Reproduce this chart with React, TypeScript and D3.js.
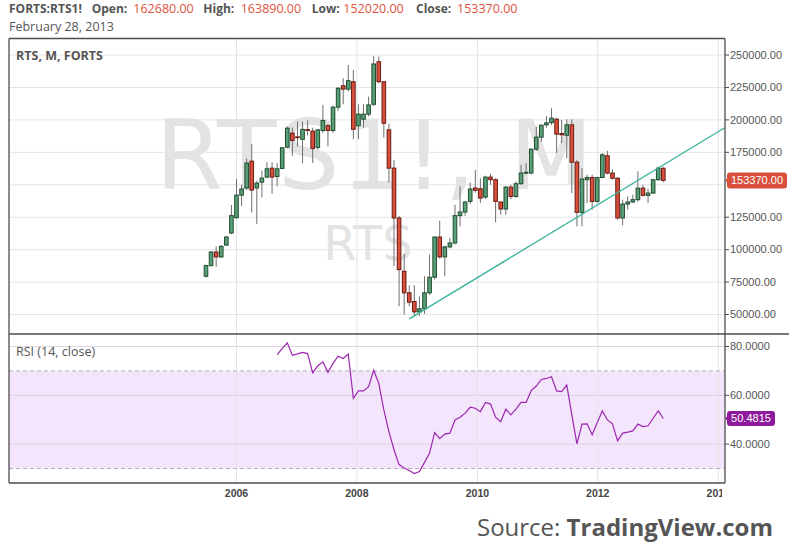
import { useMemo } from 'react';
import { scaleLinear, scaleTime, line } from 'd3';

// Monthly FORTS RTS1! bars, Aug 2005 → Feb 2013 (91 bars)
const FIRST_MONTH = new Date(2005, 7, 1);

const OPEN = [
  79500, 87700, 98200, 94400, 103500, 112800, 124600, 142000, 147500, 168200,
  147500, 152000, 155900, 162800, 156400, 162600, 179000, 189800, 186900, 185000,
  192500, 191300, 178800, 191800, 195500, 191800, 209800, 226300, 223700, 229400,
  195500, 200500, 204400, 212000, 244800, 229400, 192300, 162800, 124400, 83300,
  66700, 60000, 52000, 54400, 66700, 78700, 109700, 94400, 102100, 105100,
  126200, 129000, 137200, 147500, 146900, 140500, 155900, 153900, 136700, 131300,
  148200, 141000, 150800, 159000, 159000, 177400, 186700, 196200, 197900, 200500,
  189500, 188200, 196200, 167400, 128700, 153900, 155600, 137200, 155600, 172300,
  159000, 155000, 124400, 135100, 136700, 138500, 147400, 141800, 143600, 153900, 162680,
];
const HIGH = [
  88500, 98700, 102500, 103500, 110700, 134400, 154600, 150000, 170300, 181500,
  153000, 160800, 167400, 167400, 166700, 179000, 195000, 194100, 198700, 198700,
  199600, 194000, 193000, 211500, 197000, 211000, 225000, 232000, 242300, 238500,
  212000, 212000, 217900, 249200, 248800, 229800, 197000, 169000, 126000, 96900,
  72500, 72500, 64000, 79500, 96200, 110000, 122300, 103000, 109000, 134600,
  148700, 137500, 151800, 161500, 155000, 157000, 158500, 155000, 137000, 149000,
  150000, 152500, 165400, 166700, 178000, 194900, 196500, 203000, 209000, 201500,
  200000, 200500, 200500, 169000, 162800, 157700, 157700, 156000, 174400, 176200,
  162000, 156000, 138500, 141000, 142300, 160300, 150000, 146700, 154500, 164000, 163890,
];
const LOW = [
  78500, 87000, 86700, 93500, 103000, 112000, 124000, 133500, 146000, 128700,
  119700, 140300, 155000, 143100, 148800, 162000, 178000, 172300, 179500, 166700,
  188000, 166700, 177000, 190000, 179500, 190000, 207000, 212000, 222000, 185100,
  185100, 194000, 202700, 210700, 228000, 186200, 151800, 87200, 56400, 50000,
  56400, 48700, 49000, 50500, 65000, 77000, 93000, 79500, 101000, 104000,
  117900, 126000, 135000, 144000, 136000, 139000, 150000, 121000, 126900, 126900,
  139000, 140000, 150000, 158000, 158000, 176000, 183000, 194000, 196000, 174400,
  182000, 170500, 143600, 117900, 117900, 135900, 130800, 136000, 155000, 158000,
  154000, 123000, 118700, 130800, 136000, 137000, 141000, 135900, 143000, 153000, 152020,
];
const CLOSE = [
  87700, 98200, 94400, 102500, 109700, 126200, 142000, 146700, 166700, 145900,
  151300, 155100, 162300, 155900, 162300, 178500, 193600, 184200, 186500, 192700,
  192000, 178000, 192300, 199500, 191800, 209800, 224400, 223700, 230200, 192800,
  204400, 204400, 211500, 243100, 229400, 197400, 162800, 124400, 84600, 66700,
  59500, 52000, 54400, 66700, 78700, 109700, 94400, 102100, 105100, 126200,
  129000, 136700, 146700, 145700, 139700, 155900, 153900, 137200, 131300, 148200,
  141000, 150800, 159000, 159600, 177400, 186700, 195900, 197700, 201300, 189000,
  188500, 196200, 167400, 128700, 154400, 155600, 137200, 155600, 173100, 159000,
  155000, 124400, 135100, 136700, 138500, 147400, 141800, 143600, 153900, 162800, 153370,
];

// RSI(14, close) from bar 14 onward
const RSI_START = 14;
const RSI = [
  76.7, 79.1, 81.5, 76.4, 77.0, 77.6, 77.1, 69.2, 72.1, 73.7,
  69.4, 73.1, 76.0, 75.1, 76.9, 58.8, 61.8, 61.8, 63.5, 70.3,
  64.9, 54.0, 45.1, 37.7, 31.6, 30.2, 29.2, 27.9, 28.8, 32.5,
  36.3, 44.7, 42.2, 44.1, 44.5, 49.9, 51.0, 52.7, 55.1, 54.7,
  53.3, 57.1, 56.4, 51.0, 49.2, 54.3, 52.0, 54.3, 57.1, 57.1,
  61.9, 63.8, 66.5, 66.9, 67.6, 61.8, 61.5, 64.2, 52.0, 40.1,
  48.2, 48.3, 43.8, 48.8, 53.6, 49.9, 48.3, 41.3, 44.5, 44.9,
  45.4, 48.2, 47.2, 47.5, 50.6, 53.6, 50.4815,
];

const PRICE_TICKS = [50000, 75000, 100000, 125000, 150000, 175000, 200000, 225000, 250000];
const PRICE_LABEL_TICKS = [50000, 75000, 100000, 125000, 175000, 200000, 225000, 250000];
const RSI_TICKS = [40, 60, 80];
const RSI_BANDS = [30, 70];
const YEAR_TICKS = [2006, 2008, 2010, 2012, 2014];

// hand-drawn trend line: [bar index, price]
const TREND = [
  { i: 40, v: 46600 },
  { i: 102, v: 193700 },
];
const HIGHLIGHT_BAR = 72;

const W = 789;
const H = 554;
const FRAME = { left: 9, right: 725, top: 38.5, split: 334, bottom: 483 };

const UP_FILL = '#5a9e78';
const UP_LINE = '#1d4d2e';
const DOWN_FILL = '#d8503c';
const DOWN_LINE = '#6a1a10';
const WICK = '#6e6e6e';
const TEXT = '#555';
const AXIS_FONT = "'Liberation Sans', Arial, sans-serif";
const UI_FONT = "'Open Sans', 'Noto Sans', sans-serif";

export default function App() {
  const x = useMemo(() => scaleLinear().domain([0, OPEN.length - 1]).range([206, 663.3]), []);
  const xYear = useMemo(
    () => scaleTime().domain([new Date(2006, 0, 1), new Date(2014, 0, 1)]).range([236.5, 718.3]),
    [],
  );
  const y = useMemo(() => scaleLinear().domain([50000, 250000]).range([314.5, 55]), []);
  const yR = useMemo(() => scaleLinear().domain([30, 80]).range([468.5, 346.5]), []);

  const rsiPath = line<number>()
    .x((_, k) => x(RSI_START + k))
    .y((d) => yR(d))(RSI) ?? '';

  const last = OPEN.length - 1;
  const lastRsi = RSI[RSI.length - 1];
  const priceTagY = y(CLOSE[last]);
  const rsiTagY = yR(lastRsi);
  const lastMonth = new Date(FIRST_MONTH.getFullYear(), FIRST_MONTH.getMonth() + last + 1, 0);
  const dateLabel = lastMonth.toLocaleDateString('en-US', { month: 'long', day: 'numeric', year: 'numeric' });

  const fmt = (v: number) => v.toFixed(2);

  return (
    <svg
      width={W}
      height={H}
      style={{ position: 'absolute', left: 0, top: 0, background: '#fff', display: 'block' }}
    >
      <defs>
        <clipPath id="mainClip">
          <rect x={FRAME.left} y={FRAME.top} width={FRAME.right - FRAME.left} height={FRAME.split - FRAME.top} />
        </clipPath>
        <clipPath id="rsiClip">
          <rect x={FRAME.left} y={FRAME.split} width={FRAME.right - FRAME.left} height={FRAME.bottom - FRAME.split} />
        </clipPath>
        <clipPath id="xAxisClip">
          <rect x={FRAME.left} y={FRAME.bottom} width={FRAME.right - FRAME.left - 3} height={30} />
        </clipPath>
      </defs>

      <rect x={0} y={0} width={W} height={H} fill="#fff" />

      {/* RSI 30–70 band */}
      <rect
        x={FRAME.left} width={FRAME.right - FRAME.left}
        y={yR(RSI_BANDS[1])} height={yR(RSI_BANDS[0]) - yR(RSI_BANDS[1])}
        fill="#f3e5fb"
      />

      {/* Grid */}
      {PRICE_TICKS.map((t) => (
        <line key={`pg${t}`} x1={FRAME.left} x2={FRAME.right} y1={y(t)} y2={y(t)} stroke="#e4e4e4" strokeWidth={1} />
      ))}
      {RSI_TICKS.map((t) => (
        <line key={`rg${t}`} x1={FRAME.left} x2={FRAME.right} y1={yR(t)} y2={yR(t)} stroke="#ddd3e2" strokeWidth={1} />
      ))}
      {YEAR_TICKS.map((yr) => {
        const gx = xYear(new Date(yr, 0, 1));
        return <line key={`vg${yr}`} x1={gx} x2={gx} y1={FRAME.top} y2={FRAME.bottom} stroke="#e4e4e4" strokeWidth={1} />;
      })}
      {RSI_BANDS.map((t) => (
        <line
          key={`rb${t}`} x1={FRAME.left} x2={FRAME.right} y1={yR(t)} y2={yR(t)}
          stroke="#b8aebf" strokeWidth={1} strokeDasharray="4 3"
        />
      ))}

      {/* Watermark */}
      <g clipPath="url(#mainClip)" fontFamily="'DejaVu Sans', sans-serif" fill="#e3e3e3" textAnchor="middle">
        <text x={375} y={188.5} fontSize={97} letterSpacing={1.5}>RTS1!, M</text>
        <text x={368} y={260} fontSize={48}>RTS</text>
      </g>

      {/* Hovered bar highlight */}
      <rect
        x={x(HIGHLIGHT_BAR) - 4} width={8}
        y={y(HIGH[HIGHLIGHT_BAR])} height={y(150000) - y(HIGH[HIGHLIGHT_BAR])}
        fill="#e6e6e6"
      />

      {/* Candles */}
      <g clipPath="url(#mainClip)">
        {OPEN.map((o, i) => {
          const c = CLOSE[i];
          const up = c >= o;
          const cx = x(i);
          const top = y(Math.max(o, c));
          const bot = y(Math.min(o, c));
          return (
            <g key={i}>
              <line x1={cx} x2={cx} y1={y(HIGH[i])} y2={y(LOW[i])} stroke={WICK} strokeWidth={1} />
              <rect
                x={cx - 1.8} width={3.6}
                y={top} height={Math.max(bot - top, 0.8)}
                fill={up ? UP_FILL : DOWN_FILL}
                stroke={up ? UP_LINE : DOWN_LINE}
                strokeWidth={1}
              />
            </g>
          );
        })}
      </g>

      {/* Trend line */}
      <line
        clipPath="url(#mainClip)"
        x1={x(TREND[0].i)} y1={y(TREND[0].v)}
        x2={x(TREND[1].i)} y2={y(TREND[1].v)}
        stroke="#3bb39c" strokeWidth={1.3}
      />

      {/* RSI line */}
      <path d={rsiPath} clipPath="url(#rsiClip)" fill="none" stroke="#9c27b0" strokeWidth={1.2} />

      {/* Frame */}
      <g stroke="#4d4d4d" strokeWidth={1.3} fill="none">
        <line x1={FRAME.left} x2={FRAME.right} y1={FRAME.top} y2={FRAME.top} />
        <line x1={FRAME.left} x2={FRAME.left} y1={FRAME.top} y2={FRAME.bottom} />
        <line x1={FRAME.left} x2={FRAME.right} y1={FRAME.bottom} y2={FRAME.bottom} />
        <line x1={FRAME.right} x2={FRAME.right} y1={FRAME.top} y2={FRAME.bottom} />
        <line x1={FRAME.left} x2={W} y1={FRAME.split} y2={FRAME.split} />
      </g>

      {/* Price axis */}
      <g fontFamily={AXIS_FONT} fontSize={11} fill={TEXT}>
        {PRICE_LABEL_TICKS.map((t) => (
          <g key={`pl${t}`}>
            <line x1={FRAME.right} x2={FRAME.right + 4} y1={y(t)} y2={y(t)} stroke="#4d4d4d" strokeWidth={1} />
            <text x={FRAME.right + 5} y={y(t)} dy="0.33em">{fmt(t)}</text>
          </g>
        ))}
        {RSI_TICKS.map((t) => (
          <g key={`rl${t}`}>
            <line x1={FRAME.right} x2={FRAME.right + 4} y1={yR(t)} y2={yR(t)} stroke="#4d4d4d" strokeWidth={1} />
            <text x={FRAME.right + 5} y={yR(t)} dy="0.33em">{t.toFixed(4)}</text>
          </g>
        ))}
      </g>

      {/* Last value tags */}
      <g fontFamily={AXIS_FONT} fontSize={11} fill="#fff">
        <path d={`M${FRAME.right},${priceTagY} l4,-4 v8 z`} fill="#d8503c" />
        <rect x={FRAME.right + 2} y={priceTagY - 8} width={60} height={16} rx={3} fill="#d8503c" />
        <text x={FRAME.right + 32} y={priceTagY} dy="0.35em" textAnchor="middle">{fmt(CLOSE[last])}</text>

        <path d={`M${FRAME.right},${rsiTagY} l4,-4 v8 z`} fill="#8e1a9c" />
        <rect x={FRAME.right + 2} y={rsiTagY - 7.5} width={48} height={15} rx={3} fill="#8e1a9c" />
        <text x={FRAME.right + 26} y={rsiTagY} dy="0.35em" textAnchor="middle">{lastRsi.toFixed(4)}</text>
      </g>

      {/* Time axis */}
      <g clipPath="url(#xAxisClip)" fontFamily={AXIS_FONT} fontSize={10.5} fontWeight="bold" fill="#444" textAnchor="middle">
        {YEAR_TICKS.map((yr) => (
          <text key={`xl${yr}`} x={xYear(new Date(yr, 0, 1))} y={497}>{yr}</text>
        ))}
      </g>

      {/* Header */}
      <g fontFamily={UI_FONT} fontSize={12}>
        <text y={13} fill={TEXT} fontWeight="bold">
          <tspan x={9}>FORTS:RTS1!</tspan>
          <tspan x={91.7}>Open:</tspan>
          <tspan x={133.3} fontWeight="normal" fill="#e0533d" fontSize={12.5}>{fmt(OPEN[last])}</tspan>
          <tspan x={203.3}>High:</tspan>
          <tspan x={240.7} fontWeight="normal" fill="#e0533d" fontSize={12.5}>{fmt(HIGH[last])}</tspan>
          <tspan x={311.7}>Low:</tspan>
          <tspan x={343.3} fontWeight="normal" fill="#e0533d" fontSize={12.5}>{fmt(LOW[last])}</tspan>
          <tspan x={416}>Close:</tspan>
          <tspan x={457} fontWeight="normal" fill="#e0533d" fontSize={12.5}>{fmt(CLOSE[last])}</tspan>
        </text>
        <text x={9} y={30.5} fill={TEXT} fontSize={12.5}>{dateLabel}</text>
        <text x={16} y={60} fill={TEXT} fontWeight="bold" fontSize={12.5}>RTS, M, FORTS</text>
        <text x={16} y={356} fill={TEXT} fontSize={12.5}>RSI (14, close)</text>
      </g>

      {/* Source */}
      <text x={773} y={536} textAnchor="end" fontFamily={UI_FONT} fontSize={24} fill={TEXT}>
        Source: <tspan fontWeight="bold">TradingView.com</tspan>
      </text>
    </svg>
  );
}
